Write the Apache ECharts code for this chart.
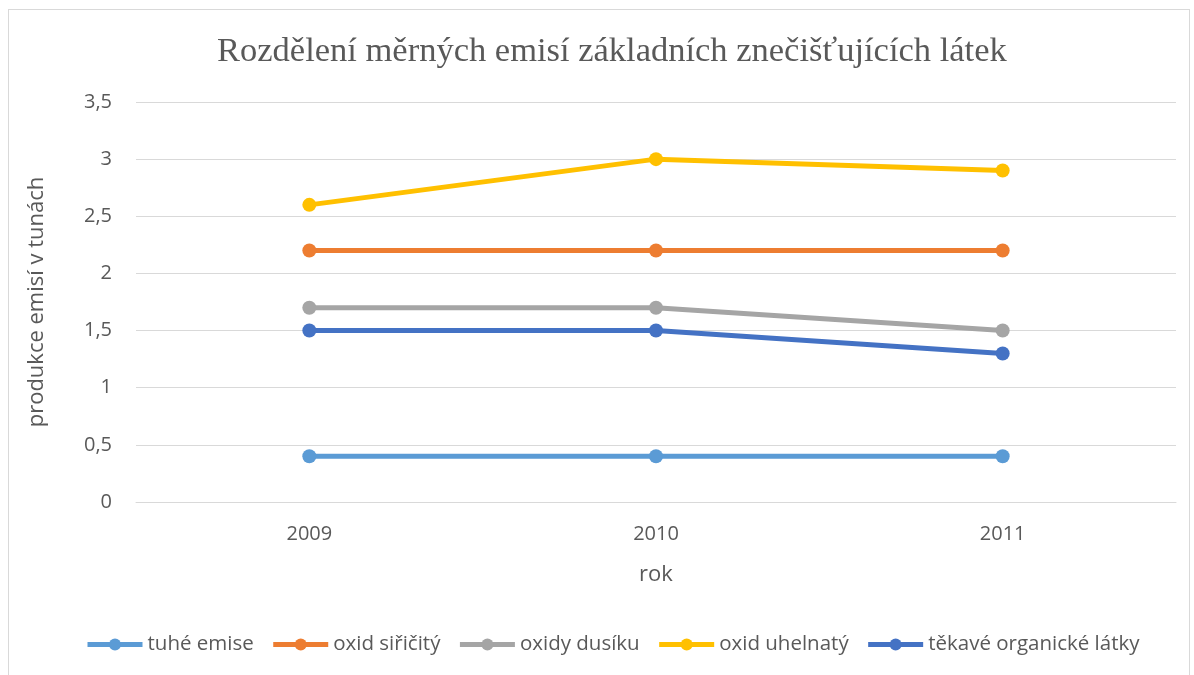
<!DOCTYPE html>
<html>
<head>
  <meta charset="utf-8">
  <title>Rozdělení měrných emisí</title>
  <style>
    html, body { margin: 0; padding: 0; background: #fff; }
    #chart { width: 1194px; height: 675px; }
    #frame { position: absolute; left: 8px; top: 9px; width: 1182px; height: 670px; border: 1px solid #d9d9d9; box-sizing: border-box; pointer-events: none; }
  </style>
</head>
<body>
  <div id="chart"></div>
  <div id="frame"></div>
  <script src="https://cdn.jsdelivr.net/npm/echarts@6/dist/echarts.min.js"></script>
  <script type="text/javascript">
    // data
    var years = ['2009', '2010', '2011'];
    var tuheEmise = [0.4, 0.4, 0.4];
    var oxidSiricity = [2.2, 2.2, 2.2];
    var oxidyDusiku = [1.7, 1.7, 1.5];
    var oxidUhelnaty = [2.6, 3.0, 2.9];
    var tekaveLatky = [1.5, 1.5, 1.3];

    var names = ['tuhé emise', 'oxid siřičitý', 'oxidy dusíku', 'oxid uhelnatý', 'těkavé organické látky'];
    var values = [tuheEmise, oxidSiricity, oxidyDusiku, oxidUhelnaty, tekaveLatky];
    var colors = ['#5b9bd5', '#ed7d31', '#a5a5a5', '#ffc000', '#4472c4'];

    var font = 'Open Sans';
    var chart = echarts.init(document.getElementById('chart'));

    var series = names.map(function (n, i) {
      return {
        name: n,
        type: 'line',
        data: values[i],
        symbol: 'circle',
        symbolSize: 14,
        lineStyle: { width: 5, color: colors[i] },
        itemStyle: { color: colors[i] }
      };
    });

    chart.setOption({
      animation: false,
      color: colors,
      title: {
        text: 'Rozdělení měrných emisí základních znečišťujících látek',
        left: 212,
        top: 29,
        textStyle: { fontFamily: 'Liberation Serif', fontSize: 34.5, fontWeight: 'normal', color: '#595959' }
      },
      legend: {
        bottom: 15,
        left: 80,
        itemWidth: 55,
        itemHeight: 15,
        itemGap: 17,
        lineStyle: { width: 5 },
        textStyle: { fontFamily: font, fontSize: 20.5, color: '#595959' },
        data: names
      },
      grid: { left: 136, right: 18, top: 102, bottom: 173 },
      xAxis: {
        type: 'category',
        data: years,
        name: 'rok',
        nameLocation: 'middle',
        nameGap: 62,
        nameTextStyle: { fontFamily: font, fontSize: 22, color: '#595959' },
        axisLine: { lineStyle: { color: '#d9d9d9' } },
        axisTick: { show: false },
        axisLabel: { fontFamily: font, fontSize: 20, color: '#595959', margin: 22 }
      },
      yAxis: {
        type: 'value',
        min: 0,
        max: 3.5,
        interval: 0.5,
        name: 'produkce emisí v tunách',
        nameLocation: 'middle',
        nameGap: 88,
        nameTextStyle: { fontFamily: font, fontSize: 22, color: '#595959' },
        axisLine: { show: false },
        axisTick: { show: false },
        splitLine: { lineStyle: { color: '#d9d9d9', width: 1 } },
        axisLabel: {
          fontFamily: font, fontSize: 20, color: '#595959', margin: 24,
          formatter: function (v) { return String(v).replace('.', ','); }
        }
      },
      series: series
    });
    window.addEventListener('resize', chart.resize);
  </script>
</body>
</html>
